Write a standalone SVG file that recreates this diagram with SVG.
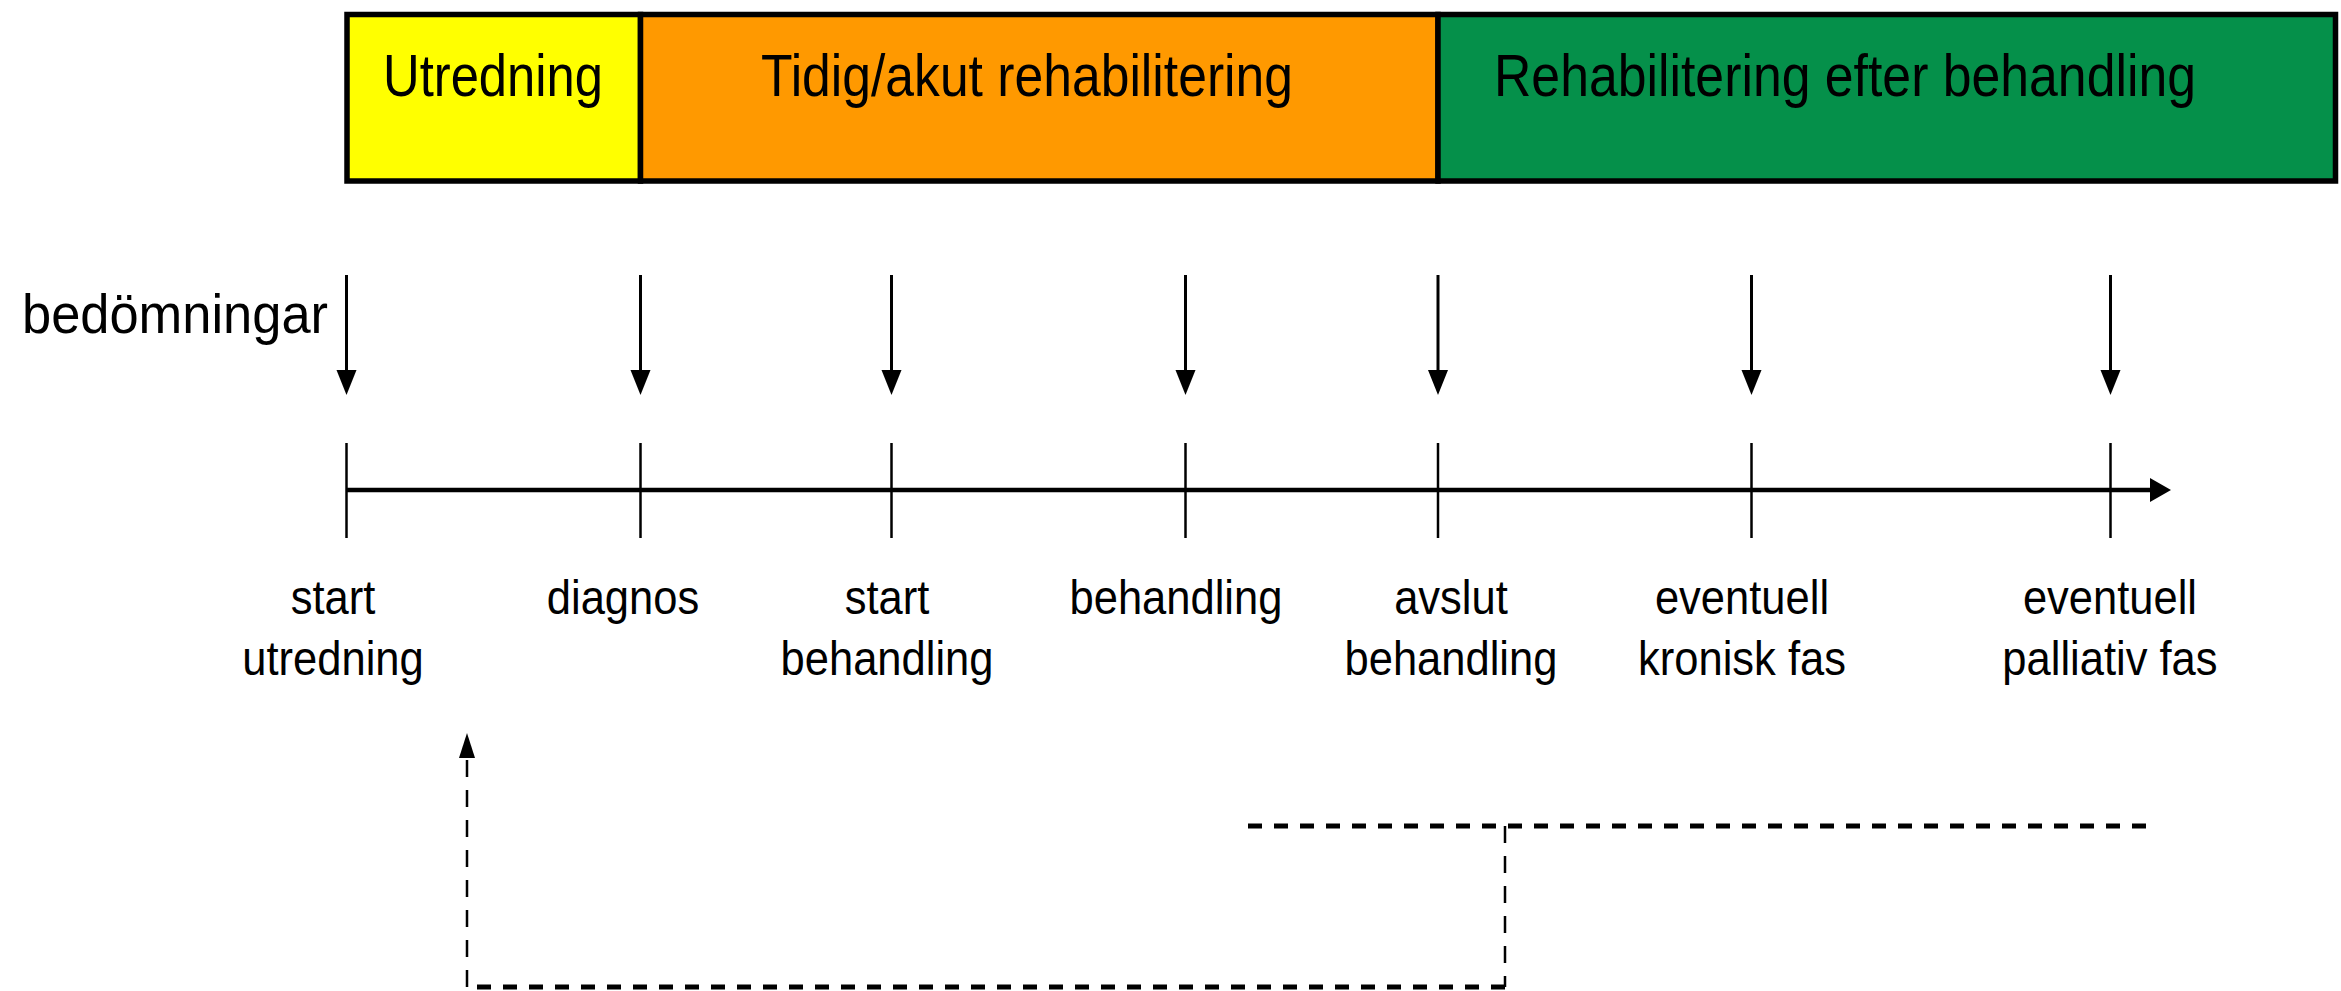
<svg xmlns="http://www.w3.org/2000/svg" width="2341" height="991" viewBox="0 0 2341 991">
  <style>
    text { font-family: "Liberation Sans", Arial, sans-serif; fill: #000; }
    .phase { font-size: 60px; text-anchor: middle; }
    .lbl { font-size: 49px; text-anchor: middle; }
    .box { stroke: #000; stroke-width: 5.5; }
    .arr { stroke: #000; stroke-width: 3; fill: none; }
    .tick { stroke: #000; stroke-width: 2.5; }
    .dashh { stroke: #000; stroke-width: 5; stroke-dasharray: 14 12; fill: none; }
    .dashv { stroke: #000; stroke-width: 2.5; stroke-dasharray: 17 13; fill: none; }
  </style>
  <rect width="2341" height="991" fill="#fff"/>

  <g id="phase-utredning">
    <rect class="box" x="347" y="14.5" width="293.5" height="166.5" fill="#FFFF00"/>
    <text class="phase" x="493" y="96" textLength="220" lengthAdjust="spacingAndGlyphs">Utredning</text>
  </g>
  <g id="phase-tidig">
    <rect class="box" x="640.5" y="14.5" width="797.5" height="166.5" fill="#FF9900"/>
    <text class="phase" x="1027" y="96" textLength="532" lengthAdjust="spacingAndGlyphs">Tidig/akut rehabilitering</text>
  </g>
  <g id="phase-efter">
    <rect class="box" x="1438" y="14.5" width="897.5" height="166.5" fill="#05904A"/>
    <text class="phase" x="1845" y="96" textLength="702" lengthAdjust="spacingAndGlyphs">Rehabilitering efter behandling</text>
  </g>

  <g id="label-bedomningar">
    <text x="22" y="333" font-size="56" textLength="306" lengthAdjust="spacingAndGlyphs">bedömningar</text>
  </g>

  <g id="connectors">
    <g id="assessment-arrows">
      <line class="arr" x1="346.5" y1="275" x2="346.5" y2="372"/>
      <polygon points="336.5,370 356.5,370 346.5,395"/>
      <line class="arr" x1="640.5" y1="275" x2="640.5" y2="372"/>
      <polygon points="630.5,370 650.5,370 640.5,395"/>
      <line class="arr" x1="891.5" y1="275" x2="891.5" y2="372"/>
      <polygon points="881.5,370 901.5,370 891.5,395"/>
      <line class="arr" x1="1185.5" y1="275" x2="1185.5" y2="372"/>
      <polygon points="1175.5,370 1195.5,370 1185.5,395"/>
      <line class="arr" x1="1438" y1="275" x2="1438" y2="372"/>
      <polygon points="1428,370 1448,370 1438,395"/>
      <line class="arr" x1="1751.5" y1="275" x2="1751.5" y2="372"/>
      <polygon points="1741.5,370 1761.5,370 1751.5,395"/>
      <line class="arr" x1="2110.5" y1="275" x2="2110.5" y2="372"/>
      <polygon points="2100.5,370 2120.5,370 2110.5,395"/>
    </g>
    <g id="timeline">
      <line x1="346.5" y1="490" x2="2152" y2="490" stroke="#000" stroke-width="4.5"/>
      <polygon points="2150,478 2171,490 2150,502"/>
      <line class="tick" x1="346.5" y1="443" x2="346.5" y2="538"/>
      <line class="tick" x1="640.5" y1="443" x2="640.5" y2="538"/>
      <line class="tick" x1="891.5" y1="443" x2="891.5" y2="538"/>
      <line class="tick" x1="1185.5" y1="443" x2="1185.5" y2="538"/>
      <line class="tick" x1="1438" y1="443" x2="1438" y2="538"/>
      <line class="tick" x1="1751.5" y1="443" x2="1751.5" y2="538"/>
      <line class="tick" x1="2110.5" y1="443" x2="2110.5" y2="538"/>
    </g>
    <g id="feedback-loop">
      <line class="dashh" x1="1248" y1="826" x2="2146" y2="826"/>
      <line class="dashv" x1="1505" y1="826" x2="1505" y2="987"/>
      <line class="dashh" x1="1505" y1="987" x2="467" y2="987"/>
      <line class="dashv" x1="467" y1="987" x2="467" y2="758"/>
      <polygon points="467,733 459,758 475,758"/>
    </g>
  </g>

  <g id="label-start-utredning" transform="scale(0.888,1)">
    <text class="lbl" x="375" y="614">start</text>
    <text class="lbl" x="375" y="675">utredning</text>
  </g>
  <g id="label-diagnos" transform="scale(0.888,1)">
    <text class="lbl" x="701.6" y="614">diagnos</text>
  </g>
  <g id="label-start-behandling" transform="scale(0.888,1)">
    <text class="lbl" x="998.9" y="614">start</text>
    <text class="lbl" x="998.9" y="675">behandling</text>
  </g>
  <g id="label-behandling" transform="scale(0.888,1)">
    <text class="lbl" x="1324.3" y="614">behandling</text>
  </g>
  <g id="label-avslut-behandling" transform="scale(0.888,1)">
    <text class="lbl" x="1634" y="614">avslut</text>
    <text class="lbl" x="1634" y="675">behandling</text>
  </g>
  <g id="label-kronisk" transform="scale(0.888,1)">
    <text class="lbl" x="1961.7" y="614">eventuell</text>
    <text class="lbl" x="1961.7" y="675">kronisk fas</text>
  </g>
  <g id="label-palliativ" transform="scale(0.888,1)">
    <text class="lbl" x="2376.1" y="614">eventuell</text>
    <text class="lbl" x="2376.1" y="675">palliativ fas</text>
  </g>
</svg>
